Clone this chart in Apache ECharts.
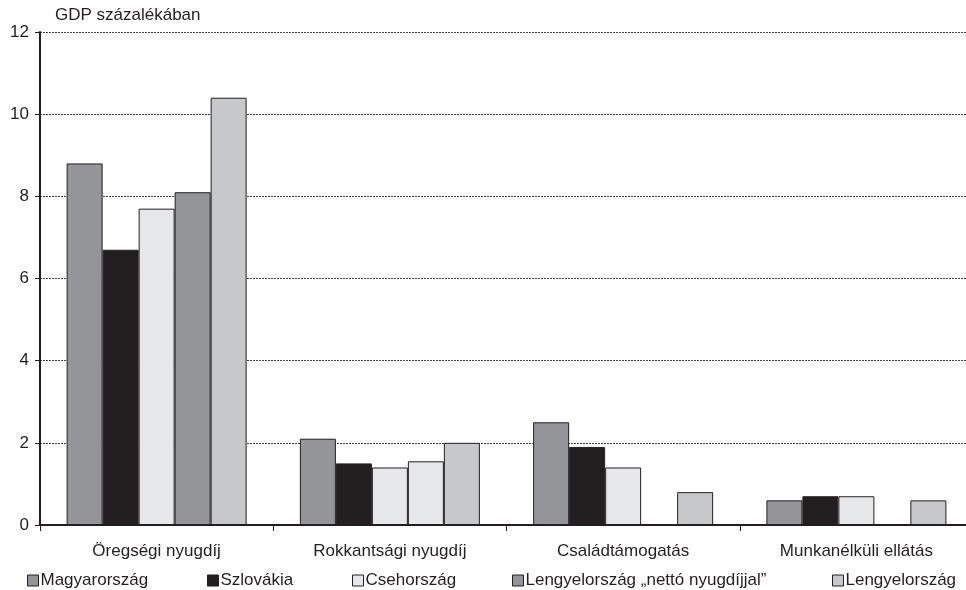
<!DOCTYPE html>
<html><head><meta charset="utf-8">
<script src="https://cdn.jsdelivr.net/npm/echarts@6/dist/echarts.min.js"></script>
<style>html,body{margin:0;padding:0;background:#fff}#c{width:966px;height:590px}</style>
</head><body><div id="c"></div>
<script>
const categories = ['Öregségi nyugdíj', 'Rokkantsági nyugdíj', 'Családtámogatás', 'Munkanélküli ellátás'];
const seriesNames = ['Magyarország', 'Szlovákia', 'Csehország', 'Lengyelország „nettó nyugdíjjal”', 'Lengyelország'];
const magyarorszag = [8.8, 2.1, 2.5, 0.6];
const szlovakia = [6.7, 1.5, 1.9, 0.7];
const csehorszag = [7.7, 1.4, 1.4, 0.7];
const lengyelNetto = [8.1, 1.55, null, null];
const lengyelorszag = [10.4, 2.0, 0.8, 0.6];
const yTicks = [0, 2, 4, 6, 8, 10, 12];

const values = [magyarorszag, szlovakia, csehorszag, lengyelNetto, lengyelorszag];
const colors = ['#939598', '#231f20', '#e6e7e8', '#939598', '#c7c8ca'];
const legendLeft = [27, 207, 352, 512, 832];
const FONT = 'Liberation Sans, Arial, sans-serif';
const TXT = '#231f20';

const series = values.map((vals, i) => ({
  name: seriesNames[i],
  type: 'bar',
  barWidth: 36,
  barGap: '0%',
  itemStyle: { color: colors[i], borderColor: '#231f20', borderWidth: 1 },
  data: vals.map((v, j) => {
    if (v === null) return '-';
    // in the reference the 4th series bar in the 2nd group is drawn light
    if (i === 3 && j === 1) return { value: v, itemStyle: { color: '#e6e7e8' } };
    return v;
  })
}));

const legends = seriesNames.map((n, i) => ({
  data: [n],
  left: legendLeft[i],
  top: 572,
  padding: 0,
  icon: 'rect',
  itemWidth: 11,
  itemHeight: 11,
  itemStyle: { borderColor: '#231f20', borderWidth: 1 },
  textStyle: { fontFamily: FONT, fontSize: 17, color: TXT, padding: [0, 0, 0, -3] },
  selectedMode: false
}));

const chart = echarts.init(document.getElementById('c'), null, { renderer: 'canvas' });
chart.setOption({
  animation: false,
  backgroundColor: '#fff',
  title: {
    text: 'GDP százalékában',
    left: 55, top: 7, padding: 0,
    textStyle: { fontFamily: FONT, fontSize: 17, fontWeight: 'normal', color: TXT }
  },
  legend: legends,
  grid: { left: 40, width: 933, top: 32, bottom: 65, containLabel: false, outerBoundsMode: 'none' },
  xAxis: {
    type: 'category',
    data: categories,
    axisLine: { lineStyle: { color: '#231f20', width: 2 } },
    axisTick: { show: true, length: 6, lineStyle: { color: '#231f20', width: 1 } },
    axisLabel: { fontFamily: FONT, fontSize: 17, color: TXT, margin: 18 }
  },
  yAxis: {
    type: 'value',
    min: yTicks[0], max: yTicks[yTicks.length - 1], interval: 2,
    axisLine: { show: true, lineStyle: { color: '#231f20', width: 2 } },
    axisTick: { show: true, length: 5, lineStyle: { color: '#231f20' } },
    axisLabel: { fontFamily: FONT, fontSize: 17, color: TXT, margin: 11 },
    splitLine: { show: true, lineStyle: { color: '#444', width: 1, type: [2, 1] } }
  },
  series: series
});
</script>
</body></html>
